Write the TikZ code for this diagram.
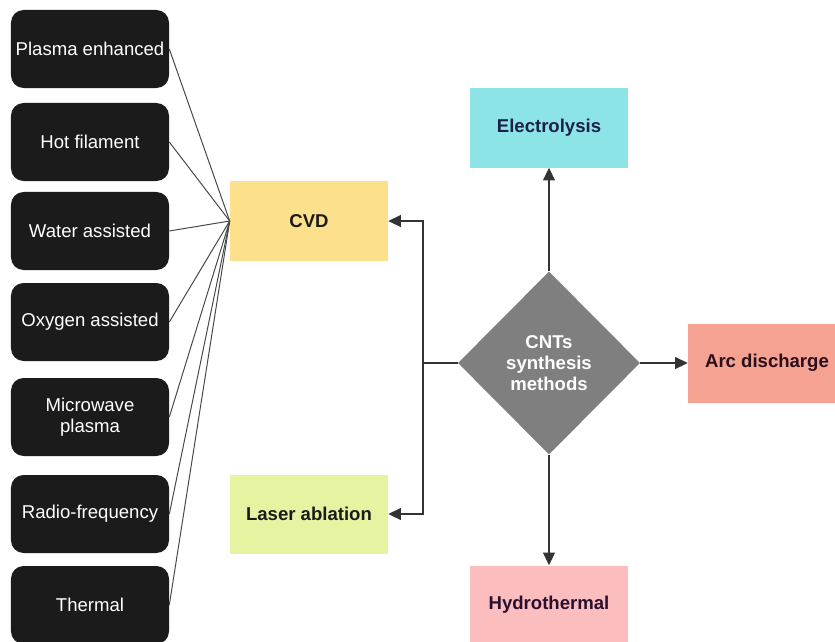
\documentclass[tikz,border=0pt]{standalone}
\usepackage{fontspec}
\setmainfont{Liberation Sans}
\usepackage{xcolor}
\usetikzlibrary{positioning,shapes.geometric,arrows.meta}

\definecolor{cvdY}{HTML}{FDE08B}
\definecolor{laserG}{HTML}{E6F4A2}
\definecolor{elecC}{HTML}{8DE4E7}
\definecolor{arcR}{HTML}{F5A293}
\definecolor{hydroP}{HTML}{FBBDBD}
\definecolor{dmdGray}{HTML}{7F7F7F}
\definecolor{boxBlk}{HTML}{1B1B1B}
\definecolor{lineGr}{HTML}{333333}

\begin{document}
\begin{tikzpicture}[x=0.025cm,y=-0.025cm,
    font=\fontsize{13.2}{15}\selectfont,
    sub/.style={fill=boxBlk,rounded corners=9pt,text=white,minimum width=3.95cm,minimum height=1.95cm,align=center,inner sep=2pt},
    meth/.style={minimum width=3.95cm,minimum height=1.975cm,align=center,font=\fontsize{13.2}{15}\selectfont\bfseries},
    fan/.style={draw=lineGr!90,line width=0.7pt},
    arr/.style={draw=lineGr,line width=1pt,-{Triangle[length=9pt,width=8.5pt]}}]
            \useasboundingbox (0,0) rectangle (835,641);

            % sub-types of CVD
            \node[sub] (pe) at (90,49) {Plasma enhanced};
            \node[sub] (hf) at (90,142) {Hot filament};
            \node[sub] (wa) at (90,231) {Water assisted};
            \node[sub] (oa) at (90,322) {Oxygen assisted};
            \node[sub] (mp) at (90,417) {Microwave\\plasma};
            \node[sub] (rf) at (90,514) {Radio-frequency};
            \node[sub] (th) at (90,605) {Thermal};

            % methods
            \node[meth,fill=cvdY,text=boxBlk] (cvd) at (309,221) {CVD};
            \node[meth,fill=laserG,text=boxBlk] (laser) at (309,514) {Laser ablation};
            \node[meth,fill=elecC,text={rgb,255:red,27;green,31;blue,74}] (elec) at (549,128) {Electrolysis};
            \node[meth,fill=arcR,text={rgb,255:red,43;green,15;blue,26}] (arc) at (767,363) {Arc discharge};
            \node[meth,fill=hydroP,text={rgb,255:red,42;green,16;blue,48}] (hydro) at (549,605) {Hydrothermal};

            \node[diamond,fill=dmdGray,text=white,inner sep=0pt,minimum width=4.55cm,minimum height=4.575cm,
                  align=center,font=\fontsize{13.2}{15}\selectfont\bfseries] (cnt) at (549,363) {CNTs\\synthesis\\methods};

            \coordinate (split) at (423,363);

            \foreach \s in {pe,hf,wa,oa,mp,rf,th}
              \draw[fan] (\s.east) -- (cvd.west);

            \draw[arr] (cnt.north) -- (elec.south);
            \draw[arr] (cnt.south) -- (hydro.north);
            \draw[arr] (cnt.east) -- (arc.west);
            \draw[draw=lineGr,line width=1pt] (cnt.west) -- (split);
            \draw[arr] (split) |- (cvd.east);
            \draw[arr] (split) |- (laser.east);

          \end{tikzpicture}
\end{document}
